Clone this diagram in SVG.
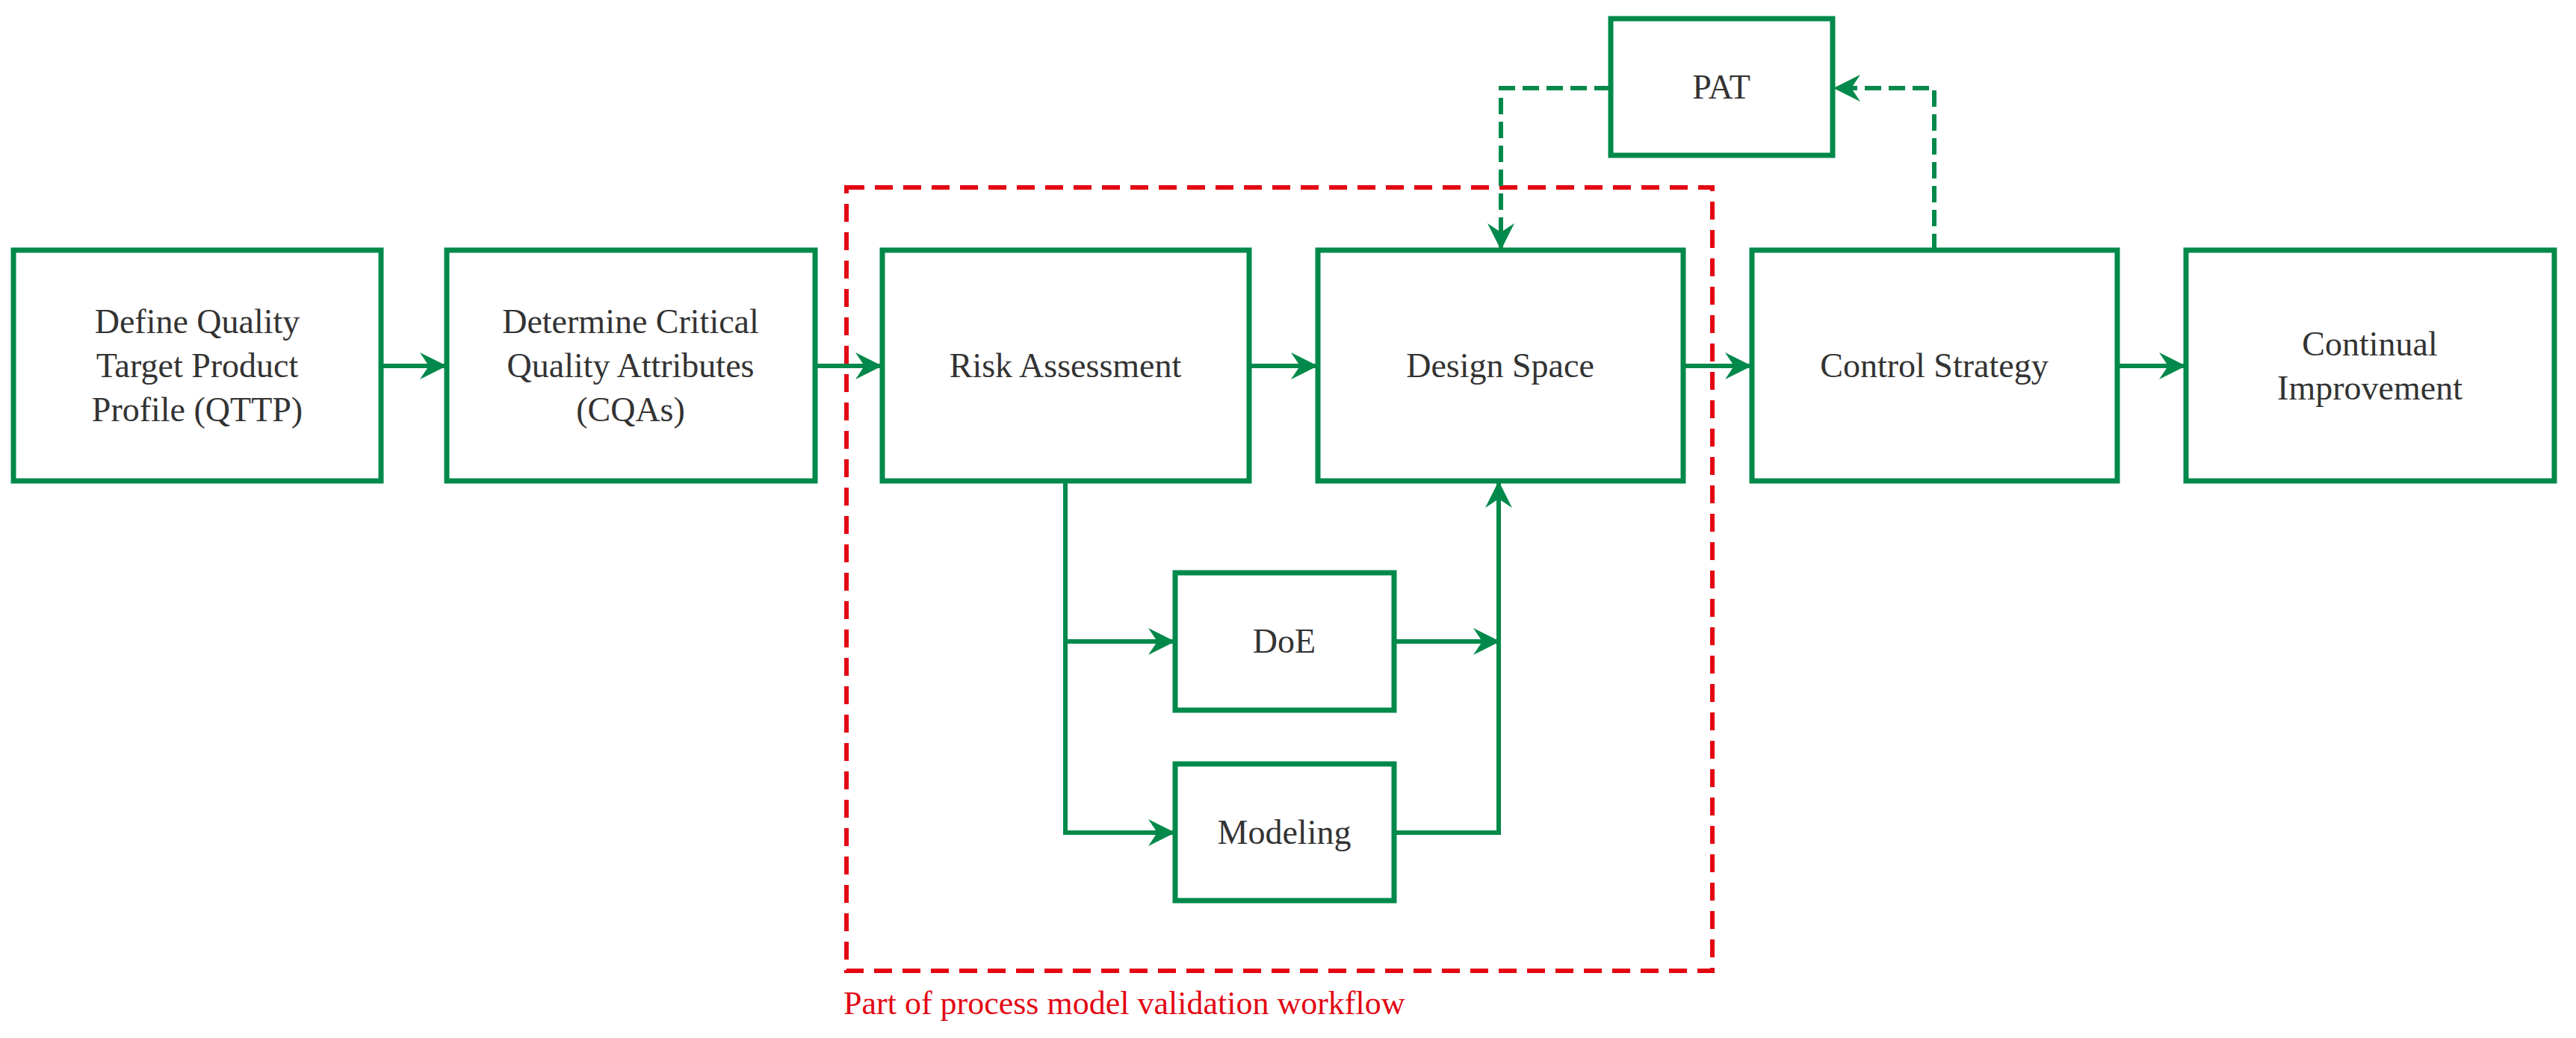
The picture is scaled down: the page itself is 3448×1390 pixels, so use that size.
<svg xmlns="http://www.w3.org/2000/svg" width="3448" height="1390" viewBox="0 0 3448 1390">
<style>
.box{fill:#fff;stroke:#00894a;stroke-width:7}
.t{font-family:"Liberation Serif",serif;font-size:46px;fill:#333;text-anchor:middle}
.c{fill:none;stroke:#00894a;stroke-width:6}
.d{fill:none;stroke:#00894a;stroke-width:6;stroke-dasharray:22 10}
</style>
<defs>
<marker id="a" viewBox="0 0 36 36" refX="34" refY="18" markerWidth="36" markerHeight="36" markerUnits="userSpaceOnUse" orient="auto">
<path d="M0,0 L36,18 L0,36 L12,18 Z" fill="#00894a"/>
</marker>
</defs>
<rect x="1133" y="251" width="1159" height="1049" fill="none" stroke="#e30613" stroke-width="6" stroke-dasharray="24 14"/>
<text x="1129" y="1358" font-family="Liberation Serif,serif" font-size="44" fill="#e30613">Part of process model validation workflow</text>
<g id="connectors">
<path class="c" d="M510,490 H596" marker-end="url(#a)"/>
<path class="c" d="M1091,490 H1179" marker-end="url(#a)"/>
<path class="c" d="M1672,490 H1762" marker-end="url(#a)"/>
<path class="c" d="M2253,490 H2343" marker-end="url(#a)"/>
<path class="c" d="M2834,490 H2924" marker-end="url(#a)"/>
<path class="c" d="M1426,644 V1115 H1571" marker-end="url(#a)"/>
<path class="c" d="M1426,859 H1571" marker-end="url(#a)"/>
<path class="c" d="M1866,859 H2006" marker-end="url(#a)"/>
<path class="c" d="M1866,1115 H2006 V646" marker-end="url(#a)"/>
<path class="d" d="M2156,118 H2009 V333" marker-end="url(#a)"/>
<path class="d" d="M2589,335 V118 H2456" marker-end="url(#a)"/>
</g>
<g id="n1"><rect class="box" x="18" y="335" width="492" height="309"/><text class="t" x="264" y="446">Define Quality</text><text class="t" x="264" y="505">Target Product</text><text class="t" x="264" y="564">Profile (QTTP)</text></g>
<g id="n2"><rect class="box" x="598" y="335" width="493" height="309"/><text class="t" x="844" y="446">Determine Critical</text><text class="t" x="844" y="505">Quality Attributes</text><text class="t" x="844" y="564">(CQAs)</text></g>
<g id="n3"><rect class="box" x="1181" y="335" width="491" height="309"/><text class="t" x="1426" y="505">Risk Assessment</text></g>
<g id="n4"><rect class="box" x="1764" y="335" width="489" height="309"/><text class="t" x="2008" y="505">Design Space</text></g>
<g id="n5"><rect class="box" x="2345" y="335" width="489" height="309"/><text class="t" x="2589" y="505">Control Strategy</text></g>
<g id="n6"><rect class="box" x="2926" y="335" width="493" height="309"/><text class="t" x="3172" y="476">Continual</text><text class="t" x="3172" y="535">Improvement</text></g>
<g id="pat"><rect class="box" x="2156" y="25" width="297" height="183"/><text class="t" x="2304" y="132">PAT</text></g>
<g id="doe"><rect class="box" x="1573" y="767" width="293" height="184"/><text class="t" x="1719" y="874">DoE</text></g>
<g id="modeling"><rect class="box" x="1573" y="1023" width="293" height="183"/><text class="t" x="1719" y="1130">Modeling</text></g>
</svg>
